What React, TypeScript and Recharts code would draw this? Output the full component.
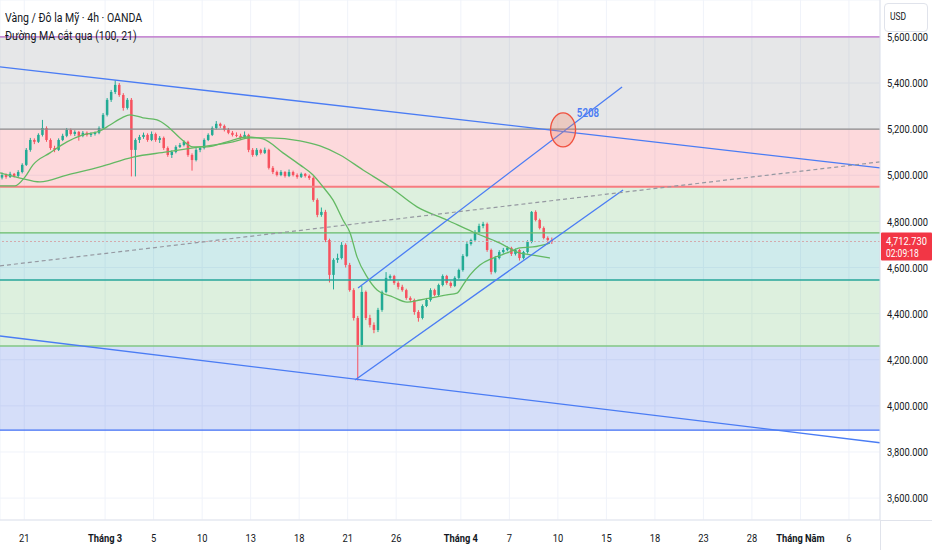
import {
  Bar,
  CartesianGrid,
  ComposedChart,
  Line,
  ReferenceArea,
  ReferenceDot,
  ReferenceLine,
  XAxis,
  YAxis,
} from "recharts";

const WIDTH = 932;
const HEIGHT = 550;
const AXIS_W = 52;
const AXIS_H = 30;

// time scale is in trading days from the left edge of the pane
const X_MAX = 54.42;
const PRICE_MIN = 3505;
const PRICE_MAX = 5760;
const LAST_PRICE = 4712.73;
const COUNTDOWN = "02:09:18";

const TIME_TICKS = [1.5, 6.5, 9.5, 12.5, 15.5, 18.5, 21.5, 24.5, 28.5, 31.5, 34.5, 37.5, 40.5, 43.5, 46.5, 49.5, 52.5];
const TIME_LABELS = ["21", "Tháng 3", "5", "10", "13", "18", "21", "26", "Tháng 4", "7", "10", "15", "18", "23", "28", "Tháng Năm", "6"];
const PRICE_TICKS = [3600, 3800, 4000, 4200, 4400, 4600, 4800, 5000, 5200, 5400, 5600];

// [open, high, low, close] left to right
const OHLC: Array<[number, number, number, number]> = [
  [4990, 5012, 4982, 5001], [5001, 5008, 4985, 4993], [4993, 5015, 4988, 5006], [5006, 5010, 4990, 4997],
  [4997, 5022, 4992, 5014], [5014, 5052, 5008, 5045], [5045, 5118, 5040, 5110], [5110, 5162, 5102, 5153],
  [5153, 5160, 5135, 5145], [5145, 5182, 5140, 5175], [5175, 5240, 5168, 5205], [5205, 5212, 5145, 5153],
  [5153, 5160, 5110, 5118], [5118, 5128, 5100, 5110], [5110, 5160, 5105, 5153], [5153, 5180, 5148, 5171],
  [5171, 5205, 5165, 5197], [5197, 5203, 5172, 5179], [5179, 5195, 5170, 5188], [5188, 5192, 5150, 5171],
  [5171, 5192, 5165, 5184], [5184, 5190, 5168, 5175], [5175, 5186, 5166, 5179], [5179, 5190, 5172, 5184],
  [5184, 5212, 5178, 5205], [5205, 5270, 5200, 5262], [5262, 5335, 5255, 5327], [5327, 5370, 5318, 5361],
  [5361, 5412, 5352, 5392], [5392, 5400, 5340, 5348], [5348, 5356, 5280, 5292], [5292, 5335, 5285, 5327],
  [5327, 5335, 4995, 5110], [5110, 5160, 4995, 5153], [5153, 5175, 5140, 5166], [5166, 5185, 5158, 5175],
  [5175, 5182, 5145, 5153], [5153, 5190, 5148, 5179], [5179, 5185, 5145, 5153], [5153, 5170, 5140, 5162],
  [5162, 5168, 5110, 5118], [5118, 5125, 5080, 5088], [5088, 5108, 5075, 5101], [5101, 5130, 5095, 5123],
  [5123, 5140, 5118, 5131], [5131, 5152, 5125, 5145], [5145, 5150, 5080, 5088], [5088, 5095, 5020, 5066],
  [5066, 5118, 5060, 5110], [5110, 5125, 5100, 5118], [5118, 5160, 5112, 5153], [5153, 5182, 5148, 5175],
  [5175, 5212, 5170, 5205], [5205, 5235, 5198, 5223], [5223, 5228, 5205, 5214], [5214, 5220, 5190, 5197],
  [5197, 5205, 5178, 5184], [5184, 5192, 5168, 5175], [5175, 5186, 5165, 5171], [5171, 5180, 5155, 5162],
  [5162, 5190, 5158, 5175], [5175, 5180, 5100, 5110], [5110, 5118, 5080, 5088], [5088, 5118, 5082, 5110],
  [5110, 5115, 5090, 5097], [5097, 5120, 5092, 5110], [5110, 5115, 5025, 5032], [5032, 5040, 5005, 5014],
  [5014, 5020, 4995, 5001], [5001, 5022, 4996, 5014], [5014, 5018, 4990, 4997], [4997, 5025, 4992, 5014],
  [5014, 5020, 4995, 5001], [5001, 5008, 4985, 4993], [4993, 5012, 4988, 5006], [5006, 5010, 4990, 4997],
  [4997, 5003, 4980, 4988], [4988, 4995, 4885, 4893], [4893, 4900, 4818, 4828], [4828, 4860, 4820, 4841],
  [4841, 4850, 4710, 4719], [4719, 4725, 4535, 4568], [4568, 4640, 4505, 4633], [4633, 4660, 4620, 4641],
  [4641, 4710, 4635, 4698], [4698, 4705, 4600, 4611], [4611, 4620, 4495, 4502], [4502, 4510, 4370, 4381],
  [4381, 4390, 4110, 4264], [4264, 4520, 4255, 4494], [4494, 4500, 4372, 4381], [4381, 4395, 4340, 4351],
  [4351, 4362, 4315, 4329], [4329, 4425, 4320, 4416], [4416, 4500, 4408, 4494], [4494, 4580, 4488, 4555],
  [4555, 4570, 4545, 4563], [4563, 4568, 4525, 4533], [4533, 4540, 4505, 4516], [4516, 4525, 4495, 4502],
  [4502, 4508, 4460, 4468], [4468, 4475, 4450, 4459], [4459, 4465, 4395, 4407], [4407, 4415, 4365, 4381],
  [4381, 4440, 4375, 4433], [4433, 4468, 4428, 4459], [4459, 4510, 4452, 4502], [4502, 4508, 4475, 4481],
  [4481, 4530, 4475, 4524], [4524, 4570, 4518, 4563], [4563, 4568, 4525, 4533], [4533, 4540, 4512, 4520],
  [4520, 4562, 4515, 4555], [4555, 4595, 4550, 4589], [4589, 4658, 4582, 4650], [4650, 4710, 4645, 4702],
  [4702, 4725, 4695, 4719], [4719, 4762, 4712, 4754], [4754, 4790, 4748, 4780], [4780, 4798, 4770, 4789],
  [4789, 4795, 4668, 4676], [4676, 4682, 4570, 4581], [4581, 4650, 4575, 4641], [4641, 4675, 4635, 4667],
  [4667, 4685, 4660, 4676], [4676, 4692, 4670, 4685], [4685, 4690, 4650, 4659], [4659, 4682, 4652, 4676],
  [4676, 4680, 4630, 4641], [4641, 4672, 4635, 4667], [4667, 4718, 4660, 4711], [4711, 4845, 4705, 4841],
  [4841, 4848, 4800, 4806], [4806, 4812, 4765, 4771], [4771, 4778, 4722, 4728], [4728, 4735, 4705, 4719],
  [4719, 4730, 4702, 4712.73],
];

// [day, price] samples of the two moving averages
const MA_FAST: Array<[number, number]> = [
  [0, 4954], [0.93, 4954], [1.55, 4993], [2.04, 5045], [3.09, 5097], [4.14, 5145], [5.13, 5175],
  [6.18, 5192], [6.8, 5218], [7.54, 5249], [8.04, 5262], [8.84, 5249], [9.71, 5240], [10.33, 5214],
  [11.13, 5162], [11.94, 5123], [12.8, 5123], [14.04, 5145], [15.28, 5166], [16.26, 5158], [17.5, 5097],
  [18.55, 5045], [19.36, 5001], [19.98, 4949], [20.59, 4893], [21.21, 4806], [21.65, 4750], [22.08, 4646],
  [22.7, 4559], [23.32, 4502], [24.3, 4472], [25.17, 4450], [25.97, 4459], [27.64, 4481], [28.26, 4489],
  [28.63, 4524], [29.07, 4568], [29.68, 4611], [30.49, 4641], [31.35, 4663], [32.16, 4685], [32.96, 4689],
  [34.01, 4706],
];
const MA_SLOW: Array<[number, number]> = [
  [0, 5010], [1.24, 4988], [2.47, 4971], [4.14, 5001], [6.18, 5036], [8.23, 5079], [10.33, 5101],
  [12.37, 5123], [14.41, 5145], [15.46, 5162], [16.7, 5162], [18.55, 5149], [19.79, 5127], [21.03, 5088],
  [22.45, 5023], [24.12, 4949], [25.79, 4863], [27.64, 4806], [29.25, 4754], [30.92, 4706], [31.97, 4667],
  [32.96, 4654], [34.01, 4641],
];

// horizontal levels, top to bottom, and the bands between them
const LEVELS = [5600, 5200, 4950, 4750, 4546, 4260, 3895];
const LEVEL_COLORS = ["#ba68c8", "#8c8c8c", "#f77c80", "#66bb6a", "#26a69a", "#81c784", "#3f6ef5"];
const LEVEL_WIDTHS = [1.2, 1.2, 2, 1.3, 1.5, 1.5, 1.3];
const BAND_COLORS = ["#7b7e87", "#f23645", "#4caf50", "#009698", "#4caf50", "#1f4fe0"];

// [x1, price1, x2, price2]
const TRENDS: Array<[number, number, number, number]> = [
  [0, 5470, X_MAX, 5032],
  [0, 4303, X_MAX, 3840],
  [21.95, 4112, 38.53, 4936],
  [22.14, 4511, 38.47, 5383],
];
const DASHED: [number, number, number, number] = [0, 4607, X_MAX, 5058];

const TARGET = { x: 34.82, price: 5197 };
const TARGET_TAG = { x: 36.36, price: 5270, text: "5208" };

const UP = "#22ab94";
const DOWN = "#f7525f";
const TEXT = "#131722";
const BLUE = "#4a7cf4";
const FONT = "Roboto, sans-serif";
const SQUEEZE = 0.81; // the screenshot's lettering is narrower than Roboto

const candles = OHLC.map(([open, high, low, close], i) => ({
  x: 0.125 + i * 0.25,
  open,
  high,
  low,
  close,
}));
const fastData = MA_FAST.map(([x, v]) => ({ x, v }));
const slowData = MA_SLOW.map(([x, v]) => ({ x, v }));

const fmtPrice = (v: number) => v.toLocaleString("en-US", { minimumFractionDigits: 3, maximumFractionDigits: 3 });

function Candle(props: any) {
  const { x, y, width, height, payload } = props;
  if (!payload || !height) return null;
  const top = Math.min(y, y + height);
  const h = Math.abs(height);
  const k = h / (payload.high - payload.low);
  const yo = top + (payload.high - payload.open) * k;
  const yc = top + (payload.high - payload.close) * k;
  const color = payload.close >= payload.open ? UP : DOWN;
  const cx = x + width / 2;
  return (
    <g>
      <line x1={cx} x2={cx} y1={top} y2={top + h} stroke={color} strokeWidth={1} />
      <rect x={cx - 1.25} y={Math.min(yo, yc)} width={2.5} height={Math.max(Math.abs(yc - yo), 1)} fill={color} />
    </g>
  );
}

function TimeTick(props: any) {
  const { x, y, index } = props;
  const label = TIME_LABELS[index];
  const month = label.startsWith("Tháng");
  return (
    <g transform={`translate(${x},${y + 20})`}>
      <text transform={`scale(${SQUEEZE},1)`} textAnchor="middle" fontSize={11.5} fontWeight={month ? 700 : 400} fill={TEXT} fontFamily={FONT}>
        {label}
      </text>
    </g>
  );
}

function PriceTick(props: any) {
  const { x, y, payload } = props;
  return (
    <g transform={`translate(${x},${y})`}>
      <text transform={`scale(${SQUEEZE},1)`} dy="0.36em" textAnchor="start" fontSize={11.5} fill={TEXT} fontFamily={FONT}>
        {fmtPrice(payload.value)}
      </text>
    </g>
  );
}

function PriceTag(props: any) {
  const vb = props.viewBox;
  if (!vb) return null;
  const left = vb.x + vb.width;
  return (
    <g fontFamily={FONT}>
      <rect x={left + 1} y={vb.y - 9} width={AXIS_W - 1} height={28} fill="#f23645" rx={1} />
      <g transform={`translate(${left + 6},${vb.y + 4})`}>
        <text transform={`scale(${SQUEEZE},1)`} fill="#fff" fontSize={11.5}>
          {fmtPrice(LAST_PRICE)}
        </text>
      </g>
      <g transform={`translate(${left + 6},${vb.y + 15.5})`}>
        <text transform={`scale(${SQUEEZE},1)`} fill="#fff" fontSize={10.5}>
          {COUNTDOWN}
        </text>
      </g>
    </g>
  );
}

const headerStyle = {
  position: "absolute" as const,
  left: 5,
  font: `13px ${FONT}`,
  lineHeight: "16px",
  color: TEXT,
  whiteSpace: "nowrap" as const,
  transform: `scaleX(${SQUEEZE})`,
  transformOrigin: "0 0",
};

export default function App() {
  return (
    <div style={{ position: "absolute", left: 0, top: 0, width: WIDTH, height: HEIGHT, background: "#fff", overflow: "hidden" }}>
      <ComposedChart
        width={WIDTH}
        height={HEIGHT}
        data={candles}
        margin={{ top: 0, right: 0, bottom: 0, left: 0 }}
        style={{ fontFamily: FONT }}
      >
        <CartesianGrid stroke="#f0f3fa" vertical horizontal />
        <XAxis
          type="number"
          dataKey="x"
          domain={[0, X_MAX]}
          ticks={TIME_TICKS}
          allowDataOverflow
          height={AXIS_H}
          tickLine={false}
          tickSize={0}
          axisLine={{ stroke: "#e0e3eb" }}
          tick={<TimeTick />}
          interval={0}
        />
        <YAxis
          orientation="right"
          domain={[PRICE_MIN, PRICE_MAX]}
          ticks={PRICE_TICKS}
          allowDataOverflow
          width={AXIS_W}
          tickLine={false}
          tickSize={0}
          tickMargin={7}
          axisLine={{ stroke: "#e0e3eb" }}
          tick={<PriceTick />}
          interval={0}
        />

        {BAND_COLORS.map((c, i) => (
          <ReferenceArea key={`band-${i}`} y1={LEVELS[i]} y2={LEVELS[i + 1]} fill={c} fillOpacity={0.19} strokeOpacity={0} />
        ))}
        {LEVELS.map((lv, i) => (
          <ReferenceLine key={`lvl-${i}`} y={lv} stroke={LEVEL_COLORS[i]} strokeWidth={LEVEL_WIDTHS[i]} />
        ))}
        <ReferenceLine y={LAST_PRICE} stroke="#d4a9ad" strokeDasharray="2 2" label={<PriceTag />} />

        <Bar dataKey={(d: any) => [d.low, d.high]} barSize={3} isAnimationActive={false} shape={(p: any) => <Candle {...p} />} />

        <Line data={slowData} dataKey="v" type="monotone" stroke="#63b963" strokeWidth={1.3} dot={false} isAnimationActive={false} />
        <Line data={fastData} dataKey="v" type="monotone" stroke="#63b963" strokeWidth={1.3} dot={false} isAnimationActive={false} />

        {TRENDS.map(([x1, y1, x2, y2], i) => (
          <ReferenceLine
            key={`tr-${i}`}
            segment={[{ x: x1, y: y1 }, { x: x2, y: y2 }]}
            stroke={BLUE}
            strokeWidth={1.3}
            ifOverflow="hidden"
          />
        ))}
        <ReferenceLine
          segment={[{ x: DASHED[0], y: DASHED[1] }, { x: DASHED[2], y: DASHED[3] }]}
          stroke="#9598a1"
          strokeWidth={1.2}
          strokeDasharray="4 3"
          ifOverflow="hidden"
        />

        <ReferenceDot
          x={TARGET.x}
          y={TARGET.price}
          shape={(p: any) => (
            <ellipse cx={p.cx} cy={p.cy} rx={12.5} ry={17} fill="#f5825f" fillOpacity={0.28} stroke="#f0513f" strokeWidth={1.4} />
          )}
        />
        <ReferenceDot
          x={TARGET_TAG.x}
          y={TARGET_TAG.price}
          shape={(p: any) => (
            <g transform={`translate(${p.cx},${p.cy + 4})`}>
              <text transform={`scale(${SQUEEZE},1)`} textAnchor="middle" fill={BLUE} fontSize={12} fontWeight={600} fontFamily={FONT}>
                {TARGET_TAG.text}
              </text>
            </g>
          )}
        />
      </ComposedChart>

      <div style={{ ...headerStyle, top: 10 }}>Vàng / Đô la Mỹ · 4h · OANDA</div>
      <div style={{ ...headerStyle, top: 28 }}>Đường MA cắt qua (100, 21)</div>
      <div
        style={{
          position: "absolute",
          left: 884,
          top: 3,
          width: 44,
          height: 29,
          boxSizing: "border-box",
          border: "1px solid #e0e3eb",
          borderRadius: 4,
          background: "#fff",
          color: TEXT,
        }}
      >
        <div style={{ ...headerStyle, left: 5, top: 6, font: `10.5px ${FONT}`, lineHeight: "14px" }}>USD</div>
      </div>
      <div style={{ position: "absolute", left: WIDTH - AXIS_W, top: HEIGHT - AXIS_H, width: 1, height: AXIS_H, background: "#e0e3eb" }} />
      <div style={{ position: "absolute", left: WIDTH - AXIS_W, top: HEIGHT - AXIS_H, width: AXIS_W, height: 1, background: "#e0e3eb" }} />
    </div>
  );
}
